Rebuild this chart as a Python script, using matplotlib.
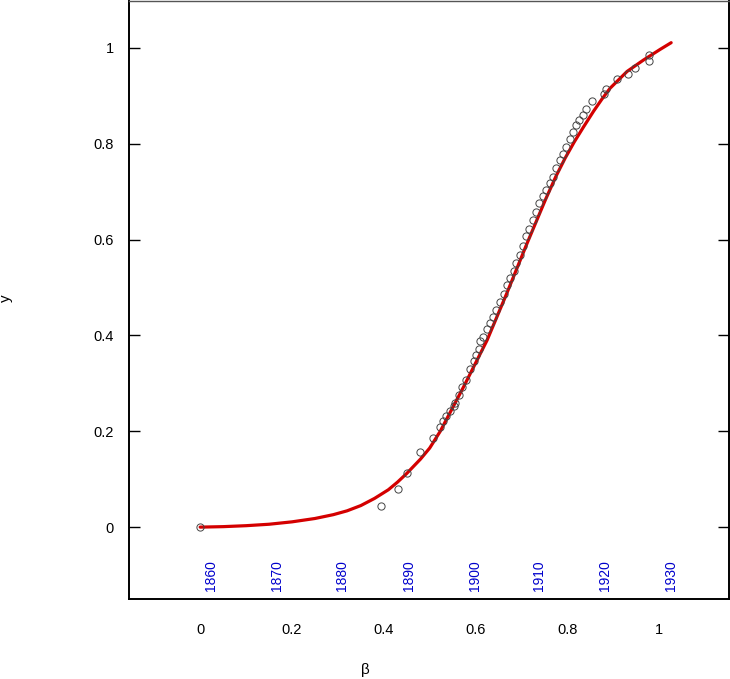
import numpy as np
import matplotlib
matplotlib.use('Agg')
import matplotlib.pyplot as plt
from matplotlib.ticker import FuncFormatter

# observed points (beta, y)
obs_beta = [0.0, 0.394, 0.431, 0.451, 0.479, 0.508, 0.523, 0.530, 0.536, 0.545,
            0.552, 0.556, 0.563, 0.570, 0.580, 0.587, 0.596, 0.601, 0.607, 0.610,
            0.617, 0.625, 0.632, 0.639, 0.645, 0.654, 0.661, 0.668, 0.675, 0.683,
            0.688, 0.696, 0.703, 0.710, 0.717, 0.725, 0.732, 0.739, 0.747, 0.754,
            0.761, 0.768, 0.776, 0.783, 0.790, 0.797, 0.805, 0.812, 0.819, 0.826,
            0.834, 0.841, 0.853, 0.879, 0.885, 0.908, 0.933, 0.948, 0.977, 0.977]
obs_y = [0.0, 0.045, 0.079, 0.112, 0.157, 0.186, 0.209, 0.222, 0.232, 0.243,
         0.252, 0.260, 0.276, 0.293, 0.307, 0.331, 0.347, 0.359, 0.371, 0.388,
         0.397, 0.413, 0.425, 0.439, 0.453, 0.470, 0.486, 0.505, 0.519, 0.535,
         0.551, 0.568, 0.587, 0.607, 0.623, 0.641, 0.658, 0.676, 0.691, 0.704,
         0.718, 0.731, 0.749, 0.766, 0.779, 0.794, 0.811, 0.825, 0.839, 0.850,
         0.860, 0.872, 0.889, 0.903, 0.914, 0.935, 0.945, 0.958, 0.985, 0.973]

# fitted curve
fit_beta = [0.0, 0.05, 0.10, 0.15, 0.20, 0.25, 0.29, 0.32, 0.35, 0.38, 0.41,
            0.43, 0.45, 0.48, 0.50, 0.523, 0.574, 0.625, 0.668, 0.712, 0.752,
            0.775, 0.795, 0.815, 0.835, 0.857, 0.875, 0.893, 0.930, 0.966,
            1.002, 1.026]
fit_y = [0.0, 0.001, 0.003, 0.006, 0.011, 0.018, 0.026, 0.034, 0.045, 0.060,
         0.078, 0.094, 0.112, 0.142, 0.165, 0.200, 0.293, 0.390, 0.488, 0.592,
         0.683, 0.732, 0.770, 0.804, 0.835, 0.868, 0.893, 0.916, 0.951, 0.975,
         0.997, 1.011]

# year annotations along beta
years = ['1860', '1870', '1880', '1890', '1900', '1910', '1920', '1930']
year_beta = [0.024, 0.167, 0.310, 0.454, 0.598, 0.739, 0.882, 1.025]

plt.rcParams['font.family'] = ['Liberation Sans', 'DejaVu Sans']

fig = plt.figure(figsize=(7.30, 6.79), dpi=100)
ax = fig.add_axes([129/730, 1 - 599/679, 600/730, 598/679])

ax.plot(fit_beta, fit_y, color='#d40000', lw=2.3, zorder=2,
        solid_capstyle='round', solid_joinstyle='round')
ax.plot(obs_beta, obs_y, 'o', mfc='none', mec='#444444', mew=0.7, ms=5.2,
        zorder=3)

for yr, b in zip(years, year_beta):
    ax.text(b, -0.133, yr, rotation=90, ha='center', va='bottom',
            color='#0000cc', fontsize=10)

ax.set_xlim(-0.155, 1.152)
ax.set_ylim(-0.150, 1.098)
ax.set_xticks([0, 0.2, 0.4, 0.6, 0.8, 1])
ax.set_yticks([0, 0.2, 0.4, 0.6, 0.8, 1])
fmt = FuncFormatter(lambda v, p: '%g' % v)
ax.xaxis.set_major_formatter(fmt)
ax.yaxis.set_major_formatter(fmt)

ax.tick_params(axis='y', direction='in', length=8, width=1, pad=11,
               labelsize=10.5, right=True)
ax.tick_params(axis='x', length=0, pad=17, labelsize=10.5)

for s in ax.spines.values():
    s.set_linewidth(1.4)
ax.spines['top'].set_linewidth(1.0)
ax.spines['top'].set_color('#555555')

fig.text(365/730, 1 - 670/679, '\u03b2', ha='center', va='center',
         fontsize=11)
fig.text(6/730, 1 - 298/679, 'y', ha='center', va='center', rotation=90,
         fontsize=11)

fig.savefig('out.png', dpi=100)
